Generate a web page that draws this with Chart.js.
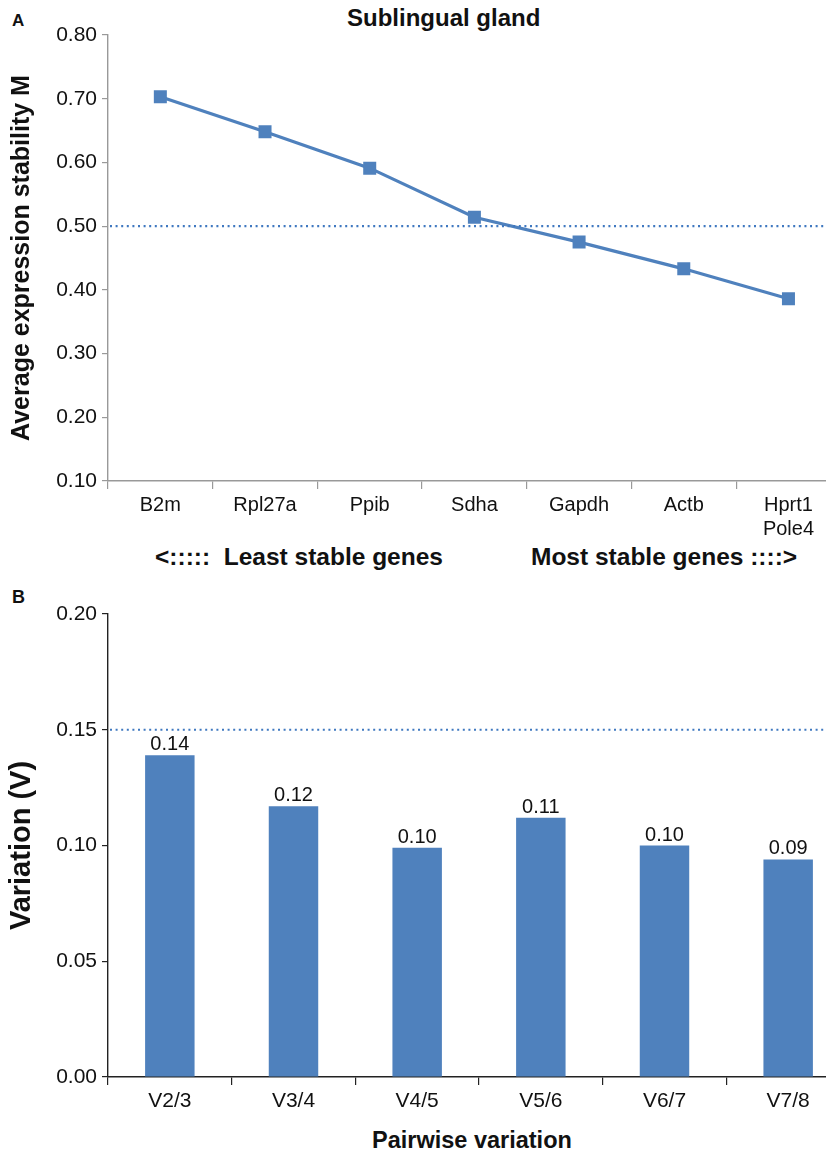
<!DOCTYPE html>
<html>
<head>
<meta charset="utf-8">
<script src="https://cdn.jsdelivr.net/npm/chart.js"></script>
<style>
  html,body{margin:0;padding:0;background:#fff;overflow:hidden;width:826px;height:1154px;}
  body{position:relative;font-family:"Liberation Sans",Arial,Helvetica,sans-serif;color:#111;}
  .lbl{position:absolute;white-space:nowrap;line-height:1;font-weight:bold;}
  #wrapA{position:absolute;left:0;top:0;width:850px;height:540px;}
  #wrapB{position:absolute;left:0;top:590px;width:850px;height:530px;}
</style>
</head>
<body>
<div class="lbl" style="left:12px;top:12px;font-size:17px;">A</div>
<div class="lbl" style="left:347px;top:6px;font-size:24px;">Sublingual gland</div>
<div id="wrapA"><canvas id="chartA"></canvas></div>
<div class="lbl" style="left:155px;top:545px;font-size:24.5px;">&lt;:::::&nbsp;&nbsp;Least stable genes</div>
<div class="lbl" style="left:531px;top:545px;font-size:24.5px;">Most stable genes ::::&gt;</div>
<div class="lbl" style="left:12px;top:588px;font-size:18px;">B</div>
<div id="wrapB"><canvas id="chartB"></canvas></div>
<div class="lbl" style="left:372px;top:1129px;font-size:23.5px;">Pairwise variation</div>
<script>
// panel A: average expression stability (geNorm M)
const genes = ['B2m', 'Rpl27a', 'Ppib', 'Sdha', 'Gapdh', 'Actb', ['Hprt1', 'Pole4']];
const stabilityM = [0.703, 0.648, 0.591, 0.514, 0.475, 0.433, 0.386];
const mCutoff = 0.50;

// panel B: pairwise variation
const pairs = ['V2/3', 'V3/4', 'V4/5', 'V5/6', 'V6/7', 'V7/8'];
const variation = [0.139, 0.117, 0.099, 0.112, 0.100, 0.094];
const vCutoff = 0.15;

const BLUE = '#4f81bd';
const FONT = '"Liberation Sans", Arial, Helvetica, sans-serif';

// dotted cut-off line, value comes from options.plugins.cutoff.value
const cutoffLine = {
  id: 'cutoff',
  afterDatasetsDraw(chart, args, opts){
    const {ctx, chartArea, scales} = chart;
    const y = scales.y.getPixelForValue(opts.value);
    ctx.save();
    ctx.strokeStyle = '#3f78c0';
    ctx.lineWidth = 2.2;
    ctx.setLineDash([2, 3.6]);
    ctx.beginPath();
    ctx.moveTo(chartArea.left + 2, y);
    ctx.lineTo(chartArea.right, y);
    ctx.stroke();
    ctx.restore();
  }
};

// value labels above the bars
const barLabels = {
  id: 'barLabels',
  afterDatasetsDraw(chart, args, opts){
    if(!opts.show) return;
    const {ctx} = chart;
    const meta = chart.getDatasetMeta(0);
    ctx.save();
    ctx.font = '20px ' + FONT;
    ctx.fillStyle = '#111';
    ctx.textAlign = 'center';
    ctx.textBaseline = 'alphabetic';
    meta.data.forEach((bar, i)=>{
      ctx.fillText(chart.data.datasets[0].data[i].toFixed(2), bar.x, bar.y - 5);
    });
    ctx.restore();
  }
};

Chart.register(cutoffLine, barLabels);
Chart.defaults.font.family = FONT;
Chart.defaults.color = '#111';
Chart.defaults.animation = false;

function yAxis(min, max, step, title, axisColor, titleSize, titlePad){
  return {
    min, max,
    afterFit: s => { s.width = 108; },
    ticks: {stepSize: step, font: {size: 21}, padding: 5, callback: v => Number(v).toFixed(2)},
    grid: {drawOnChartArea: false, drawTicks: true, tickLength: 6, color: axisColor, lineWidth: 1.2},
    border: {display: true, color: axisColor, width: 1.4},
    title: {display: true, text: title, font: {size: titleSize, weight: 'bold'}, padding: {top: titlePad, bottom: 0}}
  };
}

new Chart(document.getElementById('chartA'), {
  type: 'line',
  data: {
    labels: genes,
    datasets: [{
      data: stabilityM,
      borderColor: BLUE, backgroundColor: BLUE,
      borderWidth: 3.2,
      pointStyle: 'rect', pointRadius: 9.2, pointHoverRadius: 9.2,
      pointBorderWidth: 0, tension: 0
    }]
  },
  options: {
    responsive: true, maintainAspectRatio: false,
    layout: {padding: {top: 35, right: 0, bottom: 0, left: 0}},
    plugins: {legend: {display: false}, tooltip: {enabled: false}, cutoff: {value: mCutoff}, barLabels: {show: false}},
    scales: {
      x: {
        offset: true,
        afterFit: s => { s.height = 59; },
        ticks: {font: {size: 20}, padding: 4, maxRotation: 0, autoSkip: false},
        grid: {offset: true, drawOnChartArea: false, drawTicks: true, tickLength: 8, color: '#999', lineWidth: 1.2},
        border: {display: true, color: '#999', width: 1.4}
      },
      y: yAxis(0.1, 0.8, 0.1, 'Average expression stability M', '#999', 25, 7)
    }
  }
});

new Chart(document.getElementById('chartB'), {
  type: 'bar',
  data: {
    labels: pairs,
    datasets: [{
      data: variation,
      backgroundColor: BLUE,
      categoryPercentage: 1.0, barPercentage: 0.4
    }]
  },
  options: {
    responsive: true, maintainAspectRatio: false,
    layout: {padding: {top: 24, right: 0, bottom: 0, left: 0}},
    plugins: {legend: {display: false}, tooltip: {enabled: false}, cutoff: {value: vCutoff}, barLabels: {show: true}},
    scales: {
      x: {
        afterFit: s => { s.height = 43; },
        ticks: {font: {size: 21}, padding: 4, maxRotation: 0, autoSkip: false},
        grid: {offset: true, drawOnChartArea: false, drawTicks: true, tickLength: 8, color: '#222', lineWidth: 1.2},
        border: {display: true, color: '#222', width: 1.6}
      },
      y: yAxis(0, 0.2, 0.05, 'Variation (V)', '#222', 29, 5)
    }
  }
});
</script>
</body>
</html>
